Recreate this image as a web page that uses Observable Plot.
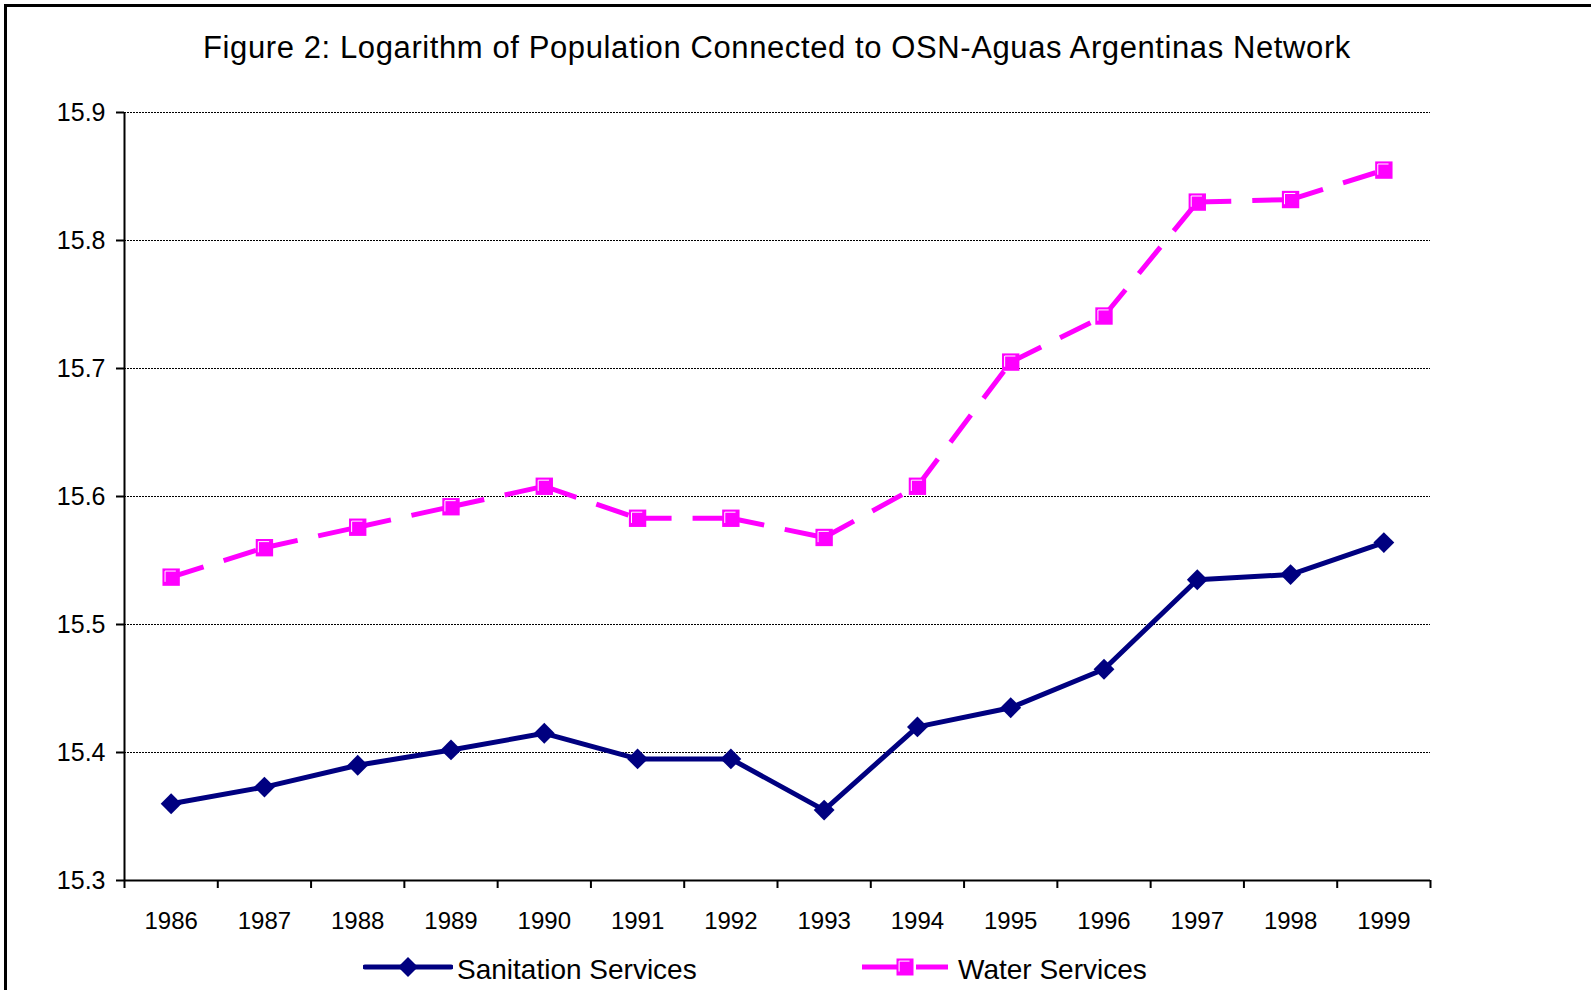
<!DOCTYPE html>
<html><head><meta charset="utf-8">
<script src="https://cdn.jsdelivr.net/npm/d3@7"></script>
<script src="https://cdn.jsdelivr.net/npm/@observablehq/plot@0.6"></script>
<style>
html,body{margin:0;padding:0;background:#fff;overflow:hidden}
#wrap{position:relative;width:1591px;height:990px;overflow:hidden;font-family:"Liberation Sans",Arial,sans-serif;color:#000;background:#fff}
#frame{position:absolute;left:4px;top:4px;width:1700px;height:1100px;border-left:3px solid #000;border-top:3px solid #000;pointer-events:none}
#title{height:90px;position:relative}
#title span{position:absolute;left:124px;width:1306px;top:32px;text-align:center;font-size:31px;line-height:31px;letter-spacing:0.6px;white-space:nowrap}
#chart svg{display:block}
#legend{position:relative;height:50px}
#legend .txt{position:absolute;top:16px;font-size:28px;line-height:28px;white-space:nowrap}
#legend svg{position:absolute;top:17px}
</style></head><body>
<div id="wrap">
  <div id="title"><span></span></div>
  <div id="chart"></div>
  <div id="legend"></div>
  <div id="frame"></div>
</div>
<script>
const years = [1986, 1987, 1988, 1989, 1990, 1991, 1992, 1993, 1994, 1995, 1996, 1997, 1998, 1999];
const sanitation = [15.360, 15.373, 15.390, 15.402, 15.415, 15.395, 15.395, 15.355, 15.420, 15.435, 15.465, 15.535, 15.539, 15.564];
const water = [15.537, 15.560, 15.576, 15.592, 15.608, 15.583, 15.583, 15.568, 15.608, 15.705, 15.741, 15.830, 15.832, 15.855];
const yTicks = [15.3, 15.4, 15.5, 15.6, 15.7, 15.8, 15.9];
const seriesNames = ["Sanitation Services", "Water Services"];
const titleText = "Figure 2: Logarithm of Population Connected to OSN-Aguas Argentinas Network";

const NAVY = "#000080", MAGENTA = "#FF00FF";

const rows = years.map((yr, i) => ({year: yr, sanitation: sanitation[i], water: water[i]}));
const segments = years.slice(1).map((yr, i) => ({x1: years[i], y1: water[i], x2: yr, y2: water[i + 1]}));
const bounds = years.map(y => y - 0.5).concat([years[years.length - 1] + 0.5]);
const gridTicks = yTicks.slice(1);

const bevel = {
  draw(context, size) {
    const h = Math.sqrt(size) / 2, i = 2.6;
    context.moveTo(-h + i, h - 4);
    context.lineTo(-h + i, -h + i);
    context.lineTo(h - 4, -h + i);
  }
};

document.querySelector("#title span").textContent = titleText;

const chart = Plot.plot({
  width: 1591,
  height: 850,
  marginLeft: 124,
  marginRight: 161,
  marginTop: 22,
  marginBottom: 60,
  x: {type: "linear", domain: [bounds[0], bounds[bounds.length - 1]]},
  y: {domain: [yTicks[0], yTicks[yTicks.length - 1]]},
  style: {fontFamily: '"Liberation Sans", Arial, sans-serif', fontSize: "24px", color: "#000", background: "transparent", overflow: "visible"},
  marks: [
    Plot.ruleY(gridTicks, {stroke: "#000", strokeWidth: 1, strokeDasharray: "2,1"}),
    Plot.ruleX([bounds[0]], {stroke: "#000", strokeWidth: 2}),
    Plot.ruleY([yTicks[0]], {stroke: "#000", strokeWidth: 2}),
    Plot.axisY(yTicks, {tickSize: 8, tickPadding: 11, tickFormat: d => d.toFixed(1), fontSize: 25, strokeWidth: 2, label: null}),
    Plot.axisX(bounds, {tickSize: 8, tickFormat: () => "", strokeWidth: 2, label: null}),
    Plot.axisX(years, {tickSize: 0, tickPadding: 31, tickFormat: d => String(d), fontSize: 24, label: null}),
    Plot.link(segments, {x1: "x1", y1: "y1", x2: "x2", y2: "y2", stroke: MAGENTA, strokeWidth: 5, strokeDasharray: "34,21", strokeLinecap: "butt"}),
    Plot.line(rows, {x: "year", y: "sanitation", stroke: NAVY, strokeWidth: 5, strokeLinejoin: "round", strokeLinecap: "round"}),
    Plot.dot(rows, {x: "year", y: "sanitation", symbol: "diamond2", r: 9.4, fill: NAVY}),
    Plot.dot(rows, {x: "year", y: "water", symbol: "square", r: 9.8, fill: MAGENTA}),
    Plot.dot(rows, {x: "year", y: "water", symbol: bevel, r: 9.8, fill: "none", stroke: "white", strokeWidth: 1})
  ]
});
document.getElementById("chart").appendChild(chart);

const legend = document.getElementById("legend");
legend.innerHTML = `
<svg style="left:363px" width="90" height="20" viewBox="0 0 90 20">
  <line x1="2" y1="10" x2="88" y2="10" stroke="${NAVY}" stroke-width="5" stroke-linecap="round"/>
  <polygon points="45,0 55,10 45,20 35,10" fill="${NAVY}"/>
</svg>
<span class="txt" style="left:457px">${seriesNames[0]}</span>
<svg style="left:862px" width="86" height="20" viewBox="0 0 86 20">
  <line x1="0" y1="10" x2="36" y2="10" stroke="${MAGENTA}" stroke-width="5"/>
  <line x1="54" y1="10" x2="86" y2="10" stroke="${MAGENTA}" stroke-width="5"/>
  <rect x="34.5" y="1.5" width="17" height="17" fill="${MAGENTA}"/>
  <path d="M37.1,14.5V4.1H47.5" fill="none" stroke="white" stroke-width="1"/>
</svg>
<span class="txt" style="left:958px">${seriesNames[1]}</span>`;
</script>
</body></html>
